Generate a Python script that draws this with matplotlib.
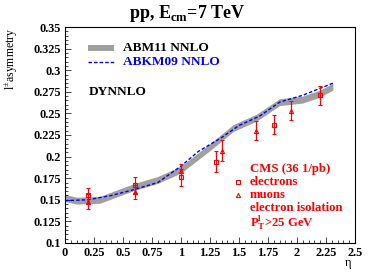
import matplotlib
matplotlib.use("Agg")
import matplotlib.pyplot as plt
from matplotlib.ticker import MultipleLocator, FixedFormatter, FixedLocator
from matplotlib.patches import Rectangle
from matplotlib.lines import Line2D

plt.rcParams['font.family'] = ['Liberation Serif', 'DejaVu Serif']
plt.rcParams['mathtext.fontset'] = 'custom'
plt.rcParams['mathtext.rm'] = 'Liberation Serif'
plt.rcParams['mathtext.bf'] = 'Liberation Serif:bold'

# ABM11 NNLO band
eta_band = [0.0, 0.1, 0.3, 0.6, 0.8, 1.0, 1.25, 1.45, 1.65, 1.85, 2.05, 2.2, 2.31]
band_lo = [0.148, 0.145, 0.146, 0.161, 0.169, 0.181, 0.207, 0.229, 0.241, 0.259, 0.262, 0.269, 0.277]
band_hi = [0.156, 0.153, 0.154, 0.169, 0.177, 0.189, 0.215, 0.237, 0.249, 0.267, 0.270, 0.277, 0.285]

# ABKM09 NNLO
eta_abkm = [0.0, 0.2, 0.4, 0.6, 0.8, 1.0, 1.15, 1.35, 1.5, 1.68, 1.85, 2.05, 2.31]
abkm = [0.149, 0.150, 0.155, 0.162, 0.170, 0.189, 0.206, 0.222, 0.236, 0.247, 0.263, 0.271, 0.285]

# CMS data
eta_el = [0.2, 0.6, 1.0, 1.3, 1.8, 2.2]
asym_el = [0.155, 0.167, 0.176, 0.194, 0.237, 0.271]
err_el = [0.009, 0.009, 0.010, 0.012, 0.011, 0.011]

eta_mu = [0.2, 0.6, 1.0, 1.35, 1.65, 1.95]
asym_mu = [0.148, 0.159, 0.183, 0.207, 0.230, 0.253]
err_mu = [0.009, 0.008, 0.009, 0.012, 0.011, 0.011]

xticks = [0, 0.25, 0.5, 0.75, 1, 1.25, 1.5, 1.75, 2, 2.25, 2.5]
xlabels = ['0', '0.25', '0.5', '0.75', '1', '1.25', '1.5', '1.75', '2', '2.25', '2.5']
yticks = [0.1, 0.125, 0.15, 0.175, 0.2, 0.225, 0.25, 0.275, 0.3, 0.325, 0.35]
ylabels = ['0.1', '0.125', '0.15', '0.175', '0.2', '0.225', '0.25', '0.275', '0.3', '0.325', '0.35']

red = '#ff0000'
fs = 9.6
fs_cms = 9.2

fig = plt.figure(figsize=(3.74, 2.73), dpi=100)
ax = fig.add_axes([0.174, 0.11, 0.775, 0.791])

ax.fill_between(eta_band, band_lo, band_hi, color='#a0a0a0', lw=0)
ax.plot(eta_abkm, abkm, color='#0000ff', ls=(0, (2.5, 1.5)), lw=1.0)

ax.errorbar(eta_el, asym_el, yerr=err_el, fmt='s', ms=3.5, mfc='none', mec=red,
            ecolor=red, elinewidth=0.9, capsize=1.5, mew=0.8)
ax.errorbar(eta_mu, asym_mu, yerr=err_mu, fmt='^', ms=3.0, mfc='none', mec=red,
            ecolor=red, elinewidth=0.9, capsize=1.5, mew=0.8)

ax.set_xlim(0, 2.5)
ax.set_ylim(0.1, 0.35)
ax.xaxis.set_major_locator(FixedLocator(xticks))
ax.xaxis.set_major_formatter(FixedFormatter(xlabels))
ax.yaxis.set_major_locator(FixedLocator(yticks))
ax.yaxis.set_major_formatter(FixedFormatter(ylabels))
ax.xaxis.set_minor_locator(MultipleLocator(0.05))
ax.yaxis.set_minor_locator(MultipleLocator(0.005))
ax.tick_params(which='both', direction='in', top=False, right=False, width=0.5)
ax.tick_params(which='major', length=4, labelsize=8.8, pad=3)
ax.tick_params(which='minor', length=2)
for lab in ax.get_xticklabels() + ax.get_yticklabels():
    lab.set_fontweight('bold')
for s in ax.spines.values():
    s.set_linewidth(0.8)

# legend
ax.add_patch(Rectangle((0.08, 0.888), 0.088, 0.03, transform=ax.transAxes,
                       color='#a0a0a0', lw=0))
ax.text(0.20, 0.903, 'ABM11 NNLO', transform=ax.transAxes, fontsize=fs,
        fontweight='bold', va='center')
ax.add_line(Line2D([0.08, 0.168], [0.838, 0.838], transform=ax.transAxes,
                   color='#0000ff', ls=(0, (2.5, 1.5)), lw=1.0))
ax.text(0.20, 0.838, 'ABKM09 NNLO', transform=ax.transAxes, fontsize=fs,
        fontweight='bold', va='center', color='#0000ff')
ax.text(0.08, 0.70, 'DYNNLO', transform=ax.transAxes, fontsize=fs,
        fontweight='bold', va='center')

# CMS legend
ax.text(0.638, 0.342, 'CMS (36 1/pb)', transform=ax.transAxes, fontsize=fs_cms,
        fontweight='bold', va='center', color=red)
ax.plot([0.597], [0.284], 's', ms=3.5, mfc='none', mec=red, mew=0.8,
        transform=ax.transAxes)
ax.text(0.638, 0.284, 'electrons', transform=ax.transAxes, fontsize=fs_cms,
        fontweight='bold', va='center', color=red)
ax.plot([0.597], [0.222], '^', ms=3.0, mfc='none', mec=red, mew=0.8,
        transform=ax.transAxes)
ax.text(0.638, 0.222, 'muons', transform=ax.transAxes, fontsize=fs_cms,
        fontweight='bold', va='center', color=red)
ax.text(0.638, 0.161, 'electron isolation', transform=ax.transAxes, fontsize=fs_cms,
        fontweight='bold', va='center', color=red)
ax.text(0.638, 0.092, r'P$_{\mathbf{T}}^{\mathbf{l}}$>25 GeV', transform=ax.transAxes,
        fontsize=fs_cms, fontweight='bold', va='center', color=red)

fig.text(0.5, 0.952, r'pp, E$_{\mathbf{cm}}$=7 TeV', ha='center', va='center',
         fontsize=13, fontweight='bold')
fig.text(0.032, 0.9, r'l$^{\pm}$asymmetry', rotation=90, ha='center', va='top',
         fontsize=8.5)
fig.text(0.93, 0.035, 'η', ha='center', va='center', fontsize=9)

fig.savefig('out.png', dpi=100)
